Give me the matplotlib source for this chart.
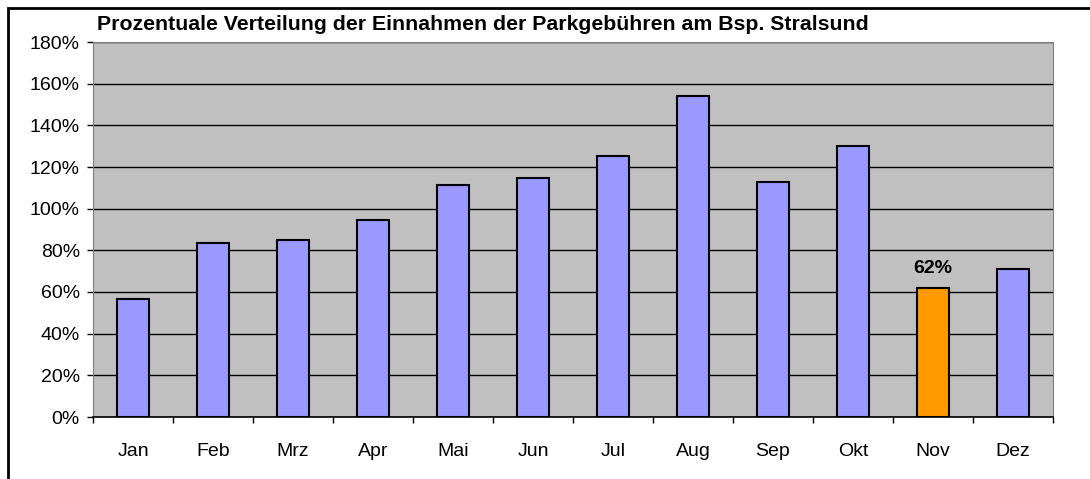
import matplotlib.pyplot as plt
from matplotlib.ticker import FixedLocator, FuncFormatter
from matplotlib.patches import Rectangle

months = ['Jan', 'Feb', 'Mrz', 'Apr', 'Mai', 'Jun', 'Jul', 'Aug', 'Sep', 'Okt', 'Nov', 'Dez']
share = [56.5, 83.5, 85, 94.5, 111.5, 114.5, 125.5, 154, 113, 130, 62, 71]
highlight = 'Nov'

plt.rcParams['font.family'] = ['Liberation Sans', 'DejaVu Sans']

fig = plt.figure(figsize=(10.9, 4.79), dpi=100)
ax = fig.add_axes([93/1090, 1 - 417/479, (1053 - 93)/1090, (417 - 42)/479])

x = list(range(len(months)))
colors = ['#FF9900' if m == highlight else '#9999FF' for m in months]
ax.set_facecolor('#C0C0C0')
ax.bar(x, share, width=0.4, color=colors, edgecolor='black', linewidth=1.5, zorder=3)

ax.set_xlim(-0.5, len(months) - 0.5)
ax.set_ylim(0, 180)
ax.set_yticks(range(0, 181, 20))
ax.yaxis.set_major_formatter(FuncFormatter(lambda v, p: '%d%%' % v))
ax.yaxis.grid(True, color='black', linewidth=1, zorder=1)
ax.set_axisbelow(True)

# ticks between categories, labels centered
ax.xaxis.set_major_locator(FixedLocator([i - 0.5 for i in range(len(months) + 1)]))
ax.xaxis.set_major_formatter(FuncFormatter(lambda v, p: ''))
ax.set_xticks(x, minor=True)
ax.set_xticklabels(months, minor=True)
ax.tick_params(axis='x', which='major', length=4.5, width=1, direction='out')
ax.tick_params(axis='x', which='minor', length=0, pad=19, labelsize=14)
ax.tick_params(axis='y', length=4.5, width=1, pad=5, labelsize=14)

for side in ['top', 'right', 'left']:
    ax.spines[side].set_color('#808080')
ax.spines['bottom'].set_color('black')
ax.spines['bottom'].set_linewidth(1.2)

i = months.index(highlight)
ax.annotate('%d%%' % share[i], (i, share[i]), xytext=(0, 8), textcoords='offset points',
            ha='center', va='bottom', fontsize=14, fontweight='bold')

fig.text(97/1090, 1 - 30/479, 'Prozentuale Verteilung der Einnahmen der Parkgebühren am Bsp. Stralsund',
         fontsize=15.3, fontweight='bold', va='baseline', ha='left')

# outer frame
fig.patches.append(Rectangle((8/1090, -0.1), 1.2, 1 - 8/479 + 0.1, transform=fig.transFigure,
                             fill=False, edgecolor='black', linewidth=2))

fig.savefig('out.png', dpi=100)
